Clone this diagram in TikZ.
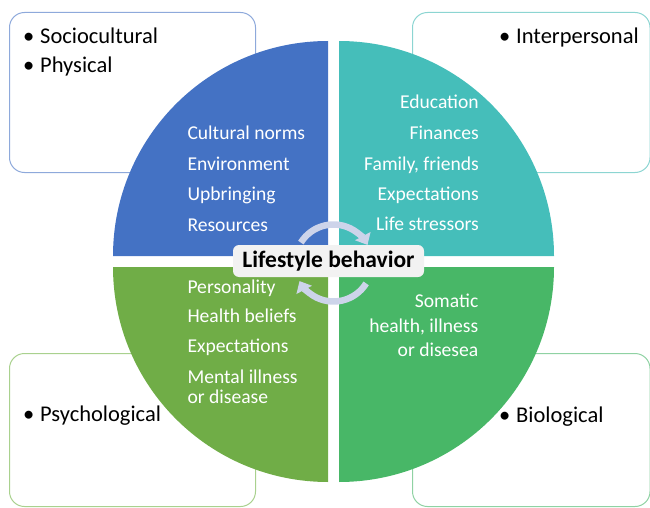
\documentclass[tikz,border=0pt]{standalone}
\usepackage{fontspec}
\setmainfont{Carlito}
\usetikzlibrary{arrows.meta}

\definecolor{qblue}{HTML}{4472C4}
\definecolor{qteal}{HTML}{45BEBA}
\definecolor{qolive}{HTML}{70AD47}
\definecolor{qgreen}{HTML}{48B767}
\definecolor{lblue}{HTML}{8EA9DB}
\definecolor{lteal}{HTML}{8CD5D2}
\definecolor{lolive}{HTML}{A9D18E}
\definecolor{lgreen}{HTML}{8FD2A3}
\definecolor{cyclecol}{HTML}{CDD4EA}
\definecolor{coregray}{HTML}{F2F2F2}

\newcommand{\bul}{\makebox[17pt][l]{\textbullet}}

\begin{document}
\begin{tikzpicture}[x=1pt,y=-1pt,
  outerbox/.style={draw, line width=1pt, rounded corners=15pt, anchor=north west, inner sep=0pt},
  boxtext/.style={anchor=base west, inner sep=0pt, text=black, font=\fontsize{22.5}{26}\selectfont},
  itemL/.style={anchor=base west, inner sep=0pt, text=white, font=\fontsize{19.6}{23}\selectfont},
  itemR/.style={anchor=base east, inner sep=0pt, text=white, font=\fontsize{19.6}{23}\selectfont},
  cyclearrow/.style={draw=cyclecol, line width=6.5pt, -{Triangle[width=17pt,length=10pt]}}]
\useasboundingbox (0,0) rectangle (650,508);

% outer frames
\node[outerbox, draw=lblue,  minimum width=246pt,   minimum height=160pt] (fsoc)  at (9,12)   {};
\node[outerbox, draw=lteal,  minimum width=237.5pt, minimum height=160pt] (finter) at (412,12) {};
\node[outerbox, draw=lolive, minimum width=246pt,   minimum height=153pt] (fpsy)  at (9,353)  {};
\node[outerbox, draw=lgreen, minimum width=237.5pt, minimum height=153pt] (fbio)  at (412,353) {};

% frame labels
\node[boxtext] (tsoc)   at (23,43.3)  {\bul Sociocultural};
\node[boxtext] (tphys)  at (23,72.7)  {\bul Physical};
\node[boxtext] (tinter) at (499,43.3) {\bul Interpersonal};
\node[boxtext] (tpsy)   at (23,421.7) {\bul Psychological};
\node[boxtext] (tbio)   at (499,422)  {\bul Biological};

% four quarter discs
\fill[qblue]  (328,256) -- ++(-215,0) arc[start angle=180, end angle=270, radius=215] -- cycle;
\fill[qteal]  (339,256) -- ++(0,-215) arc[start angle=270, end angle=360, radius=215] -- cycle;
\fill[qgreen] (339,267) -- ++(215,0)  arc[start angle=0,   end angle=90,  radius=215] -- cycle;
\fill[qolive] (328,267) -- ++(0,215)  arc[start angle=90,  end angle=180, radius=215] -- cycle;

% top-left items
\node[itemL] (a1) at (187.3,139.5) {Cultural norms};
\node[itemL] (a2) at (187.3,170)   {Environment};
\node[itemL] (a3) at (187.3,200.5) {Upbringing};
\node[itemL] (a4) at (187.3,231)   {Resources};

% top-right items
\node[itemR] (b1) at (479,109)   {Education};
\node[itemR] (b2) at (479,139.3) {Finances};
\node[itemR] (b3) at (479,170)   {Family, friends};
\node[itemR] (b4) at (479,200)   {Expectations};
\node[itemR] (b5) at (479,230.7) {Life stressors};

% bottom-left items
\node[itemL] (c1) at (187.3,293.3) {Personality};
\node[itemL] (c2) at (187.3,322)   {Health beliefs};
\node[itemL] (c3) at (187.3,352)   {Expectations};
\node[itemL] (c4) at (187.3,383.3) {Mental illness};
\node[itemL] (c5) at (187.3,403)   {or disease};

% bottom-right items
\node[itemR] (d1) at (478.5,307.3) {Somatic};
\node[itemR] (d2) at (478.5,332.3) {health, illness};
\node[itemR] (d3) at (478.5,356.7) {or disesea};

% cycle arrows around the centre
\draw[cyclearrow] (333.5,263) ++(212:38.5) arc[start angle=212, end angle=332, radius=38.5];
\draw[cyclearrow] (333.5,263) ++(32:38.5)  arc[start angle=32,  end angle=152, radius=38.5];

% centre label
\node[fill=coregray, rounded corners=6pt, minimum width=191pt, minimum height=32pt,
      inner sep=0pt, font=\bfseries\fontsize{23.5}{27}\selectfont] (core) at (328.5,261) {Lifestyle behavior};
\end{tikzpicture}
\end{document}
